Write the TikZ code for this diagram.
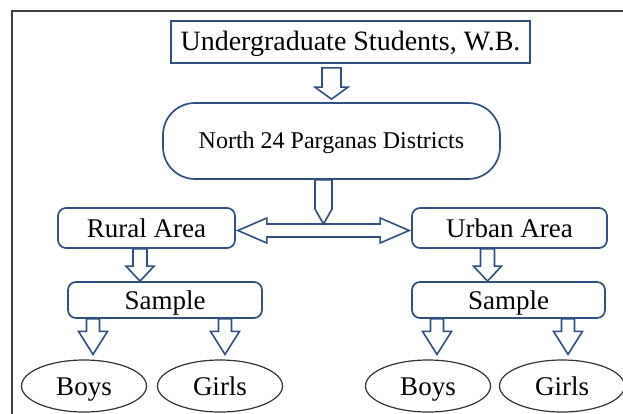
\documentclass[tikz,border=0pt]{standalone}
\usepackage{fontspec}
\setmainfont{Liberation Serif}
\usetikzlibrary{calc,shapes.geometric}
\definecolor{boxblue}{HTML}{2F5080}
\definecolor{framegray}{HTML}{404040}

% hollow block arrow pointing down: #1 top, #2 tip, #3 half shaft, #4 half head, #5 head length
\newcommand{\downblock}[5]{%
  \draw[blockarrow] let \p1=(#1), \p2=(#2) in
    (\x2-#3,\y1) -- (\x2-#3,\y2+#5) -- (\x2-#4,\y2+#5) -- (\x2,\y2)
    -- (\x2+#4,\y2+#5) -- (\x2+#3,\y2+#5) -- (\x2+#3,\y1) -- cycle;}

\begin{document}
\begin{tikzpicture}[
  x=1pt, y=-1pt,
  box/.style={rectangle, draw=boxblue, line width=1.7pt, inner sep=0pt, text height=18pt, text depth=0pt, font=\fontsize{27}{30}\selectfont},
  area/.style={box, rounded corners=8pt},
  person/.style={ellipse, draw=black!80, line width=1.2pt, minimum width=125pt, minimum height=52pt, inner sep=0pt, text height=18pt, text depth=0pt, font=\fontsize{27}{30}\selectfont},
  blockarrow/.style={draw=boxblue, line width=1.6pt, fill=white, line join=miter}
]
\useasboundingbox (0,0) rectangle (623,414);
\draw[framegray, line width=2.2pt] (12,414) -- (12,11) -- (623,11);

\node[box, minimum width=359pt, minimum height=42pt, font=\fontsize{28}{30}\selectfont] (ug) at (350.5,42) {Undergraduate Students, W.B.};
\node[box, rounded corners=32pt, minimum width=337pt, minimum height=76pt, text height=16pt, font=\fontsize{24}{28}\selectfont] (dist) at (331.5,141) {North 24 Parganas Districts};

\node[area, minimum width=177pt, minimum height=40pt] (rural) at (146.5,228) {Rural Area};
\node[area, minimum width=195pt, minimum height=40pt] (urban) at (509.5,228) {Urban Area};

\node[area, minimum width=194pt, minimum height=36pt] (rsample) at (165,300) {Sample\hspace{15pt}};
\node[area, minimum width=193pt, minimum height=36pt] (usample) at (508.5,300) {Sample\hspace{15pt}};

\node[person] (rboys) at (84,386) {Boys};
\node[person] (rgirls) at (220,386) {Girls};
\node[person] (uboys) at (428,386) {Boys};
\node[person] (ugirls) at (562,386) {Girls};

% arrows
\coordinate (split) at ($(rural.east)!0.5!(urban.west)+(0,2.5)$);
\downblock{$(ug.south)+(0,4)$}{$(dist.north)+(0,-3)$}{9.5pt}{16.5pt}{12pt}
\draw[blockarrow] let \p1=($(rural.east)+(2,0)$), \p2=($(urban.west)+(-2,0)$), \p3=(split) in
  (\x1,\y3) -- (\x1+29pt,\y3+12.5pt) -- (\x1+29pt,\y3+6.5pt) -- (\x2-29pt,\y3+6.5pt)
  -- (\x2-29pt,\y3+12.5pt) -- (\x2,\y3) -- (\x2-29pt,\y3-12.5pt) -- (\x2-29pt,\y3-6.5pt)
  -- (\x1+29pt,\y3-6.5pt) -- (\x1+29pt,\y3-12.5pt) -- cycle;
\downblock{dist.south}{$(split)+(0,-6.5)$}{8.5pt}{8.5pt}{15pt}

\downblock{rural.south}{$(rsample.north)+(-25,0)$}{7pt}{14pt}{15pt}
\downblock{urban.south}{$(usample.north)+(-21,0)$}{7pt}{14pt}{15pt}

\downblock{rsample.south}{$(rboys.north)+(9,-5)$}{6.5pt}{14.5pt}{23pt}
\downblock{rsample.south}{$(rgirls.north)+(5,-5)$}{6.5pt}{14.5pt}{23pt}
\downblock{usample.south}{$(uboys.north)+(9,-5)$}{6.5pt}{14.5pt}{23pt}
\downblock{usample.south}{$(ugirls.north)+(6,-5)$}{6.5pt}{14.5pt}{23pt}
\end{tikzpicture}
\end{document}
